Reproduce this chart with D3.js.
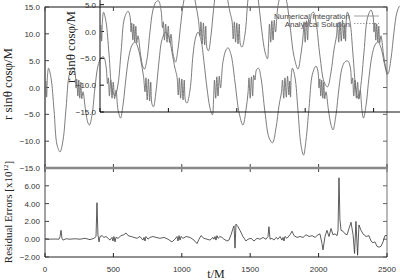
<!DOCTYPE html>
<html>
<head>
<meta charset="utf-8">
<script src="https://cdn.jsdelivr.net/npm/d3@7"></script>
<style>
  body { margin: 0; background: #fff; }
  svg { display: block; }
  .tick-label { font-family: "Liberation Sans", Arial, sans-serif; font-size: 8px; fill: #333; }
  .title { font-family: "Liberation Serif", "Times New Roman", serif; fill: #222; }
</style>
</head>
<body>
<div id="chart"></div>
<script>
// ---- datos ----
// orbita: t/M y r sin(theta) cos(phi)/M
var orbitT = [0, 6, 12, 18, 26, 44, 66, 88, 110, 132, 154, 179, 205, 219, 227, 232, 240, 247, 254, 262, 269, 278, 296, 314, 325,
  344, 365, 387, 409, 428, 446, 457, 463, 471, 480, 490, 499, 509, 519, 534, 552,
  570, 592, 614, 636, 658, 680, 702, 720, 731, 738, 747, 756, 765, 773, 782, 793,
  811, 833, 855, 881, 906, 928, 950, 965, 974, 982, 991, 1000, 1009, 1018, 1027, 1038,
  1060, 1082, 1100, 1118, 1140, 1162, 1184, 1206, 1224,
  1232, 1239, 1248, 1256, 1265, 1274, 1283, 1301, 1323, 1338, 1360, 1389, 1418, 1447,
  1469, 1484, 1491, 1500, 1509, 1518, 1526, 1535, 1546, 1561, 1579, 1608, 1638, 1663,
  1689, 1711, 1729, 1736, 1745, 1754, 1764, 1773, 1783, 1789, 1795, 1800, 1809, 1828, 1849, 1871, 1890,
  1908, 1930, 1955, 1981, 1996, 2003, 2009, 2016, 2023, 2031, 2038, 2045, 2054, 2072, 2091, 2105,
  2127, 2149, 2171, 2193, 2215, 2233, 2241, 2248, 2257, 2266, 2276, 2285, 2295, 2304, 2317, 2328,
  2347, 2368, 2390, 2412, 2434, 2456, 2478, 2500];
var orbitX = [-1.4, 1.2, -1.8, 2.1, 3.6, 1.8, -4.2, -10.7, -12.0, -9.8, -3.8, 2.5, 3.8, 2.9, -0.1, 1.6, -1.6, 1.4, -2.0, 1.0, -2.1, -0.8, -4.2, -6.6, -7.0,
  -5.1, -0.1, 4.0, 5.5, 5.7, 4.0, 0.7, 1.8, -1.6, 1.4, -2.0, 1.0, -2.1, -0.5, -4.2, -5.7,
  -3.3, 1.8, 5.9, 7.9, 8.5, 7.4, 4.8, 2.1, -0.8, 1.8, -2.3, 1.6, -2.5, 1.0, -3.1, -3.6,
  -0.8, 4.8, 8.9, 10.3, 9.4, 6.6, 3.6, 2.0, -1.4, 1.8, -2.0, 1.6, -2.3, 1.4, -2.5, -2.9,
  -0.5, 6.1, 9.2, 10.3, 8.9, 4.8, -0.1, -3.8, -5.1,
  -2.3, 1.4, -2.0, 2.0, -1.6, 2.1, -0.1, 4.8, 7.0, 7.4, 6.1, 1.0, -4.6, -7.0,
  -4.2, -1.0, 1.8, -2.0, 2.0, -1.6, 2.3, 1.4, 3.3, 3.6, 1.8, -4.6, -9.4, -10.3,
  -7.5, -3.3, -0.8, 1.4, -2.0, 1.8, -1.8, 2.1, -1.4, 1.2, -1.8, 2.1, 3.6, 1.8, -4.2, -10.7, -12.6,
  -9.8, -3.8, 2.5, 4.0, 2.9, -0.1, 1.6, -1.6, 1.4, -2.0, 1.0, -2.1, -0.8, -4.2, -7.0, -7.9,
  -5.1, -0.1, 3.6, 4.8, 4.9, 3.6, 0.7, 1.8, -1.6, 1.4, -2.0, 1.0, -2.1, -0.5, -4.2, -5.7,
  -3.3, 1.8, 5.9, 7.9, 8.5, 7.4, 4.8, 2.3];

// errores residuales [x10^12]
var residT = [0, 37, 73, 102, 110, 117, 124, 132, 154, 183, 219, 256, 292, 329, 358, 373, 380, 387, 395, 402,
  417, 431, 446, 461, 475, 490, 497, 504, 512, 519, 534, 556, 577, 592, 607, 629, 651, 673, 694, 716,
  724, 731, 738, 753, 768, 789, 811, 840, 870, 899, 928, 950, 965, 972, 980, 987, 994, 1009, 1031, 1060,
  1089, 1111, 1126, 1140, 1162, 1184, 1206, 1228, 1235, 1243, 1250, 1257, 1265, 1279, 1294, 1308, 1330, 1345, 1360, 1374,
  1382, 1389, 1396, 1411, 1425, 1447, 1469, 1484, 1506, 1528, 1550, 1572, 1594, 1615, 1630, 1637, 1645, 1659, 1674, 1689,
  1703, 1718, 1732, 1740, 1747, 1754, 1769, 1791, 1806, 1820, 1842, 1864, 1886, 1908, 1930, 1952, 1974, 1996, 2010, 2025,
  2032, 2047, 2061, 2076, 2091, 2105, 2120, 2135, 2142, 2149, 2156, 2164, 2178, 2193, 2208, 2222, 2237, 2252, 2263, 2273,
  2285, 2295, 2310, 2325, 2347, 2368, 2383, 2398, 2412, 2427, 2442, 2456, 2471, 2485, 2500];
var residV = [0.05, 0.0, 0.02, 0.0, 0.3, 1.0, 0.1, -0.1, 0.05, 0.0, 0.05, 0.0, 0.1, -0.05, 0.1, 0.3, 4.1, 0.5, -0.3, 0.3,
  0.4, 0.2, 0.3, 0.1, -0.1, 0.2, -0.2, 0.3, -0.3, 0.2, 0.1, 0.4, 0.5, 0.7, 0.4, 0.3, 0.2, 0.1, 0.3, -0.1,
  0.2, -0.2, 0.3, 0.0, 0.2, 0.3, 0.2, 0.1, 0.2, 0.0, -0.3, 0.0, 0.3, -0.2, 0.4, -0.1, 0.3, 0.1, 0.3, 0.2,
  -0.1, -0.5, 0.0, 0.4, 0.1, 0.0, -0.1, 0.2, 0.0, 0.3, -0.1, 0.4, 0.1, 0.3, 0.2, 0.0, -0.2, -0.1, 0.5, 1.2,
  1.5, -1.0, 1.7, 1.4, 1.0, 0.3, -0.2, 0.0, 0.1, -0.2, 0.1, 0.0, 0.2, 0.0, 0.3, 1.4, 0.0, 0.1, -0.1, 0.2,
  0.0, 0.3, -0.1, 0.2, -0.2, 0.3, 0.1, 0.5, 0.9, 0.4, 0.2, 0.3, 0.2, 0.5, 0.3, 0.4, 0.2, 0.5, 0.6, -0.5,
  -1.2, 0.3, 1.0, 0.3, 1.2, 0.5, 0.6, 0.4, 1.0, 6.9, 2.2, 1.0, 0.9, 0.6, 0.5, 1.2, 1.9, 0.5, -1.6, 2.0,
  -1.8, 1.6, 1.0, 0.6, 0.3, 0.4, -0.2, -0.4, -0.3, -0.8, -0.9, -0.8, -0.3, 0.4, 0.4];

var ticksT = [0, 500, 1000, 1500, 2000, 2500];
var ticksOrbit = [-15, -10, -5, 0, 5, 10, 15];
var ticksOrbitInset = [-15, -10, -5, 0, 5];
var ticksResid = [-2, 0, 2, 4, 6];
var leyenda = ["Numerical Integration", "Analytical Solution"];

var orbit = orbitT.map(function (t, i) { return { t: t, v: orbitX[i] }; });
var resid = residT.map(function (t, i) { return { t: t, v: residV[i] }; });

var svg = d3.select("#chart").append("svg")
    .attr("width", 400)
    .attr("height", 280);

// escalas: grafico principal, grafico superpuesto (desplazado) y residuos
var x = d3.scaleLinear().domain([0, 2500]).range([45, 387]);
var y = d3.scaleLinear().domain([-15, 15]).range([168, 7]);
var xIn = d3.scaleLinear().domain([0, 2500]).range([100, 442]);
var yIn = d3.scaleLinear().domain([-15, 15]).range([112, -49]);
var yRes = d3.scaleLinear().domain([-2, 8]).range([257, 168]);

var fmt1 = d3.format(".1f"), fmt2 = d3.format(".2f");

// ---- grafico principal ----
var main = svg.append("g");
main.append("rect")
    .attr("x", x(0)).attr("y", y(15))
    .attr("width", x(2500) - x(0)).attr("height", y(-15) - y(15))
    .attr("fill", "none").attr("stroke", "#888").attr("stroke-width", 1.2);
main.append("line")
    .attr("x1", x(0)).attr("x2", x(2500)).attr("y1", y(15)).attr("y2", y(15))
    .attr("stroke", "#888").attr("stroke-width", 2);
main.append("line")
    .attr("x1", x(0)).attr("x2", x(0)).attr("y1", y(15)).attr("y2", yRes(-2))
    .attr("stroke", "#444").attr("stroke-width", 1);

ticksOrbit.forEach(function (d) {
    main.append("line").attr("x1", x(0)).attr("x2", x(0) + 4).attr("y1", y(d)).attr("y2", y(d)).attr("stroke", "#444");
    main.append("line").attr("x1", x(2500)).attr("x2", x(2500) - 4).attr("y1", y(d)).attr("y2", y(d)).attr("stroke", "#666");
    main.append("text").attr("class", "tick-label")
        .attr("x", x(0) - 5).attr("y", y(d) + 3)
        .attr("text-anchor", "end").text(fmt1(d));
});
ticksT.forEach(function (d) {
    main.append("line").attr("x1", x(d)).attr("x2", x(d)).attr("y1", y(15)).attr("y2", y(15) + 4).attr("stroke", "#444");
    main.append("line").attr("x1", x(d)).attr("x2", x(d)).attr("y1", y(-15) - 4).attr("y2", y(-15) + 4).attr("stroke", "#444");
});

var lineMain = d3.line()
    .x(function (d) { return x(d.t); })
    .y(function (d) { return y(d.v); })
    .curve(d3.curveCatmullRom.alpha(0.5));
main.append("path").datum(orbit)
    .attr("d", lineMain)
    .attr("fill", "none").attr("stroke", "#6e6e6e").attr("stroke-width", 0.9);

// leyenda
leyenda.forEach(function (txt, i) {
    main.append("text").attr("class", "tick-label")
        .attr("x", 350).attr("y", 19 + i * 7.5)
        .attr("text-anchor", "end").style("fill", "#444").text(txt);
    main.append("line")
        .attr("x1", 354).attr("x2", 379).attr("y1", 16 + i * 7.5).attr("y2", 16 + i * 7.5)
        .attr("stroke", "#888").attr("stroke-width", 0.8)
        .attr("stroke-dasharray", i === 1 ? "1.5,1.5" : null);
});

main.append("text").attr("class", "title")
    .attr("transform", "translate(12,84) rotate(-90)")
    .attr("text-anchor", "middle").style("font-size", "13px")
    .text("r sinθ cosφ/M");

// ---- grafico superpuesto ----
var inset = svg.append("g");
inset.append("line")
    .attr("x1", xIn(0)).attr("x2", xIn(0)).attr("y1", yIn(15)).attr("y2", yIn(-15))
    .attr("stroke", "#111").attr("stroke-width", 1);
inset.append("line")
    .attr("x1", xIn(0)).attr("x2", xIn(2500)).attr("y1", yIn(-15)).attr("y2", yIn(-15))
    .attr("stroke", "#111").attr("stroke-width", 1);
ticksOrbitInset.forEach(function (d) {
    inset.append("line").attr("x1", xIn(0)).attr("x2", xIn(0) + 4).attr("y1", yIn(d)).attr("y2", yIn(d)).attr("stroke", "#111");
    inset.append("text").attr("class", "tick-label")
        .attr("x", xIn(0) - 4).attr("y", yIn(d) + 3)
        .attr("text-anchor", "end").text(fmt1(d));
});
ticksT.forEach(function (d) {
    inset.append("line").attr("x1", xIn(d)).attr("x2", xIn(d)).attr("y1", yIn(-15)).attr("y2", yIn(-15) - 4).attr("stroke", "#111");
});
var lineIn = d3.line()
    .x(function (d) { return xIn(d.t); })
    .y(function (d) { return yIn(d.v); })
    .curve(d3.curveCatmullRom.alpha(0.5));
inset.append("path").datum(orbit)
    .attr("d", lineIn)
    .attr("fill", "none").attr("stroke", "#6e6e6e").attr("stroke-width", 0.9);
inset.append("text").attr("class", "title")
    .attr("transform", "translate(75,47) rotate(-90)")
    .attr("text-anchor", "middle").style("font-size", "13px")
    .text("r sinθ cosφ/M");

// ---- residuos ----
var res = svg.append("g");
res.append("line")
    .attr("x1", x(0)).attr("x2", x(2500)).attr("y1", yRes(8)).attr("y2", yRes(8))
    .attr("stroke", "#888").attr("stroke-width", 2.5);
res.append("line")
    .attr("x1", x(2500)).attr("x2", x(2500)).attr("y1", yRes(8)).attr("y2", yRes(-2))
    .attr("stroke", "#888").attr("stroke-width", 1.2);
res.append("line")
    .attr("x1", x(0)).attr("x2", x(2500)).attr("y1", yRes(-2)).attr("y2", yRes(-2))
    .attr("stroke", "#222").attr("stroke-width", 1);
ticksResid.forEach(function (d) {
    res.append("line").attr("x1", x(0)).attr("x2", x(0) + 4).attr("y1", yRes(d)).attr("y2", yRes(d)).attr("stroke", "#444");
    res.append("line").attr("x1", x(2500)).attr("x2", x(2500) - 4).attr("y1", yRes(d)).attr("y2", yRes(d)).attr("stroke", "#666");
    res.append("text").attr("class", "tick-label")
        .attr("x", x(0) - 5).attr("y", yRes(d) + 3)
        .attr("text-anchor", "end").text(fmt2(d));
});
ticksT.forEach(function (d) {
    res.append("line").attr("x1", x(d)).attr("x2", x(d)).attr("y1", yRes(-2)).attr("y2", yRes(-2) - 4).attr("stroke", "#222");
    res.append("text").attr("class", "tick-label")
        .attr("x", x(d)).attr("y", yRes(-2) + 15)
        .attr("text-anchor", "middle").text(d);
});
var lineRes = d3.line()
    .x(function (d) { return x(d.t); })
    .y(function (d) { return yRes(d.v); });
res.append("path").datum(resid)
    .attr("d", lineRes)
    .attr("fill", "none").attr("stroke", "#333").attr("stroke-width", 0.8);

var resTitle = res.append("text").attr("class", "title")
    .attr("transform", "translate(12,212) rotate(-90)")
    .attr("text-anchor", "middle").style("font-size", "11px");
resTitle.append("tspan").text("Residual Errors [x10");
resTitle.append("tspan").attr("dy", -4).style("font-size", "7px").text("12");
resTitle.append("tspan").attr("dy", 4).text("]");

res.append("text").attr("class", "title")
    .attr("x", 216).attr("y", 278)
    .attr("text-anchor", "middle").style("font-size", "12px")
    .text("t/M");
</script>
</body>
</html>
